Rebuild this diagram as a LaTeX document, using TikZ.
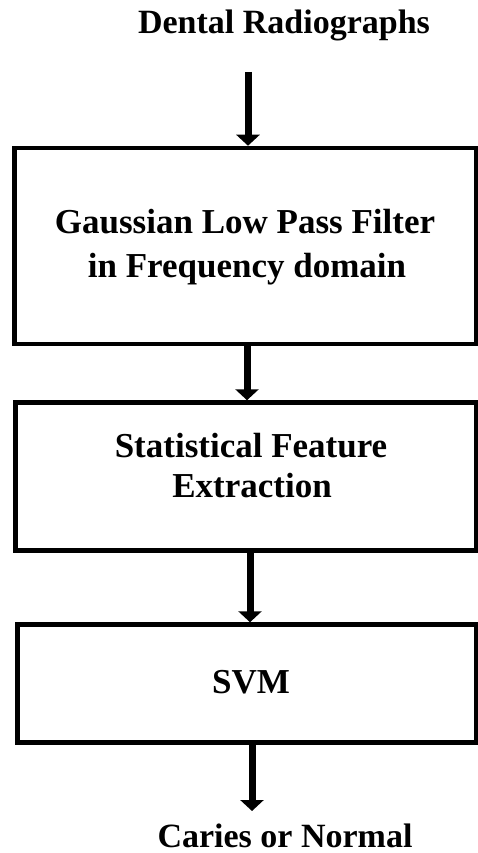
\documentclass[tikz,border=0pt]{standalone}
\usepackage{fontspec}
\setmainfont{Liberation Serif}
\usetikzlibrary{arrows.meta}
\begin{document}
\begin{tikzpicture}[x=1pt,y=-1pt,
  box/.style={draw=black, line width=4.5pt, rectangle, inner sep=0pt},
  arr/.style={line width=7pt, -{Triangle[width=23pt,length=11pt]}},
  lbl/.style={font=\fontsize{34}{40}\selectfont\bfseries, inner sep=0pt, anchor=base},
  boxtxt/.style={font=\fontsize{35}{43}\selectfont\bfseries, inner sep=0pt, align=center}]
\useasboundingbox (0,0) rectangle (478,853);
% boxes
\node[box, minimum width=461.5pt, minimum height=196pt] (b1) at (245.25,246) {};
\node[box, minimum width=460.5pt, minimum height=148pt] (b2) at (245.75,476.5) {};
\node[box, minimum width=458.5pt, minimum height=118pt] (b3) at (246.75,683.5) {};
% labels
\node[lbl] (in) at (284,34) {Dental Radiographs};
\node[lbl] (out) at (285,847) {Caries or Normal};
\node[boxtxt, anchor=base] (t1a) at (245,233) {Gaussian Low Pass Filter};
\node[boxtxt, anchor=base] (t1b) at (247,277) {in Frequency domain};
\node[boxtxt, anchor=base] (t2a) at (251,457) {Statistical Feature};
\node[boxtxt, anchor=base] (t2b) at (252,497) {Extraction};
\node[boxtxt, anchor=base] (t3) at (251,693) {SVM};
% arrows
\coordinate (a1s) at (248,72);
\coordinate (a4e) at (252,811);
\draw[arr] (a1s) -- (a1s |- b1.north);
\draw[arr] ([xshift=1.75pt]b1.south) -- ([xshift=1.25pt]b2.north);
\draw[arr] ([xshift=4.25pt]b2.south) -- ([xshift=3.25pt]b3.north);
\draw[arr] (a4e |- b3.south) -- (a4e);
\end{tikzpicture}
\end{document}
